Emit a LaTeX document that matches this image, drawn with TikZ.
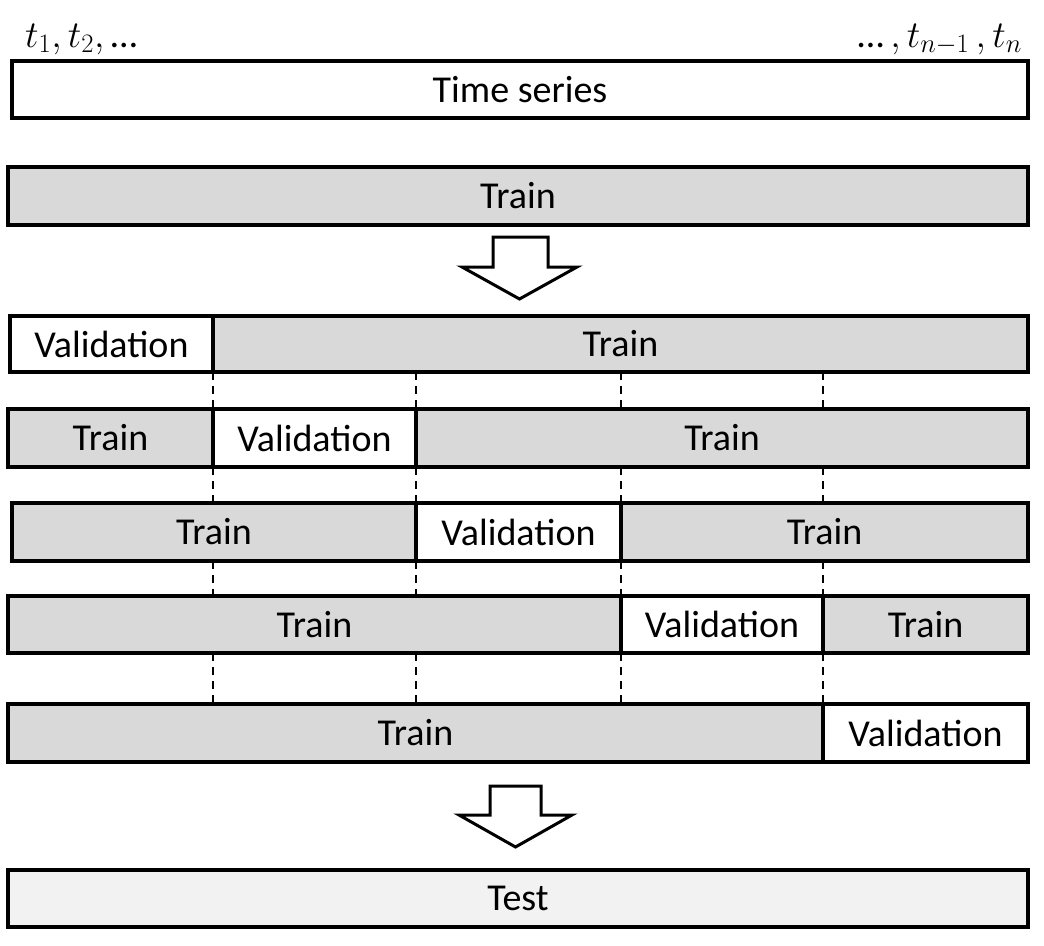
\RequirePackage{fix-cm}
\documentclass[tikz,border=0pt]{standalone}
\usepackage{fontspec}
\setmainfont{Carlito}
\definecolor{traingray}{HTML}{D9D9D9}
\definecolor{testgray}{HTML}{F2F2F2}
\newcommand{\elli}{\mbox{…}}
\tikzset{
  seg/.style={draw=black, line width=3.5pt, inner sep=0pt, outer sep=0pt,
    font=\fontsize{38}{46}\selectfont, text=black},
  trainbox/.style={seg, fill=traingray},
  valbox/.style={seg, fill=white},
  testbox/.style={seg, fill=testgray},
  splitline/.style={draw=black, line width=1.5pt, dash pattern=on 8pt off 6pt},
  bigarrow/.style={draw=black, line width=3pt, fill=white, line join=miter},
  tlabel/.style={inner sep=0pt, font=\fontsize{38}{46}\selectfont}
}
\begin{document}
\begin{tikzpicture}[x=1pt, y=-1pt]
\useasboundingbox (0,0) rectangle (1044,945);
% labels
\node[tlabel, anchor=base west] (tl) at (25,47) {$t_1, t_2, \elli$};
\node[tlabel, anchor=base east] (tr) at (1022,47) {$\elli\,, t_{n-1}\,, t_n$};
% time series and train
\node[valbox, minimum width=1016pt, minimum height=57pt] (ts) at (520,89.5) {Time series};
\node[trainbox, minimum width=1020pt, minimum height=58pt] (tr0) at (518,196) {Train};
% arrow 1
\draw[bigarrow] (493,237) -- (548,237) -- (548,267) -- (577,267) -- (519.5,299) -- (462,267) -- (493,267) -- cycle;
% row 1
\node[valbox, minimum width=203pt, minimum height=56pt] (r1v) at (111.5,344) {Validation};
\node[trainbox, minimum width=815pt, minimum height=56pt, anchor=west] (r1t) at (r1v.east) {Train};
% row 2
\node[trainbox, minimum width=205pt, minimum height=58pt] (r2a) at (110.5,438) {Train};
\node[valbox, minimum width=203pt, minimum height=58pt, anchor=west] (r2v) at (r2a.east) {Validation};
\node[trainbox, minimum width=612pt, minimum height=58pt, anchor=west] (r2b) at (r2v.east) {Train};
% row 3
\node[trainbox, minimum width=404pt, minimum height=58pt] (r3a) at (214,532) {Train};
\node[valbox, minimum width=205pt, minimum height=58pt, anchor=west] (r3v) at (r3a.east) {Validation};
\node[trainbox, minimum width=407pt, minimum height=58pt, anchor=west] (r3b) at (r3v.east) {Train};
% row 4
\node[trainbox, minimum width=613pt, minimum height=57pt] (r4a) at (314.5,624.5) {Train};
\node[valbox, minimum width=202pt, minimum height=57pt, anchor=west] (r4v) at (r4a.east) {Validation};
\node[trainbox, minimum width=205pt, minimum height=57pt, anchor=west] (r4b) at (r4v.east) {Train};
% row 5
\node[trainbox, minimum width=815pt, minimum height=58pt] (r5a) at (415.5,733) {Train};
\node[valbox, minimum width=205pt, minimum height=58pt, anchor=west] (r5v) at (r5a.east) {Validation};
% dashed split lines
\foreach \top/\bot in {r1t/r2a, r2b/r3a, r3b/r4a, r4b/r5a}{
  \draw[splitline] (r2a.south east |- \top.south) -- (r2a.south east |- \bot.north);
  \draw[splitline] (r3a.south east |- \top.south) -- (r3a.south east |- \bot.north);
  \draw[splitline] (r4a.south east |- \top.south) -- (r4a.south east |- \bot.north);
  \draw[splitline] (r5a.south east |- \top.south) -- (r5a.south east |- \bot.north);
}
% arrow 2
\draw[bigarrow] (490,786) -- (541,786) -- (541,815) -- (572,815) -- (515.5,847) -- (459,815) -- (490,815) -- cycle;
% test
\node[testbox, minimum width=1020pt, minimum height=57pt] (test) at (518,898.5) {Test};
\end{tikzpicture}
\end{document}
